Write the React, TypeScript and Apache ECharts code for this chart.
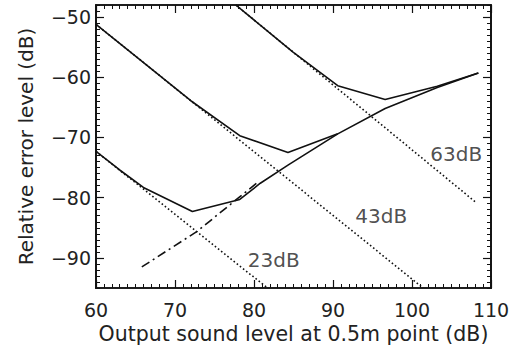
import React, { useEffect, useRef } from "react";
import * as echarts from "echarts";

const xMajorTicks = [60, 70, 80, 90, 100, 110];
const yMajorTicks = [-90, -80, -70, -60, -50];

// Quantization-noise lines (dotted)
const dotted23: number[][] = [[60, -72.3], [81.7, -95]];
const dotted43: number[][] = [[60, -51.2], [101.4, -95]];
const dotted63: number[][] = [[77.7, -48], [108.2, -80.9]];

// Rising distortion line (dash-dot)
const dashDot: number[][] = [[65.8, -91.5], [72.8, -85.6], [80.5, -77.4]];

// Total error curves (solid)
const total23: number[][] = [
  [60, -72.3], [63, -75.4], [66, -78.3], [72.2, -82.3], [78.2, -80.3],
  [80.8, -77.6], [84.3, -74.6], [90.6, -69.4], [96.6, -65.2], [103.2, -61.7], [108.4, -59.3],
];
const total43: number[][] = [
  [60, -51.2], [72, -63.9], [78.2, -69.7], [84.3, -72.5], [90.6, -69.4],
];
const total63: number[][] = [
  [77.7, -48], [84.9, -55.8], [90.6, -61.4], [96.6, -63.7], [103.2, -61.5], [108.4, -59.3],
];

const annotations = [
  { name: "63dB", value: [105.6, -72.8] },
  { name: "43dB", value: [96.1, -83.0] },
  { name: "23dB", value: [82.5, -90.3] },
];

const FONT = "DejaVu Sans";
const minus = (v: number) => (v < 0 ? "\u2212" + Math.abs(v) : String(v));

export default function App() {
  const ref = useRef<HTMLDivElement>(null);
  useEffect(() => {
    if (!ref.current) return;
    const chart = echarts.init(ref.current, null, { renderer: "svg" });
    const axisLine = { show: true, lineStyle: { color: "#111", width: 1.7 } };
    const minorX = {
      type: "value", min: 60, max: 110, interval: 1,
      axisLine, axisTick: { show: true, inside: true, length: 4, lineStyle: { color: "#111", width: 1 } },
      axisLabel: { show: false }, splitLine: { show: false },
    };
    const minorY = {
      type: "value", min: -95, max: -48, interval: 1,
      axisLine, axisTick: { show: true, inside: true, length: 4, lineStyle: { color: "#111", width: 1 } },
      axisLabel: { show: false }, splitLine: { show: false },
    };
    const lineSeries = (data: number[][], type: any, width = 1.6) => ({
      type: "line", data, symbol: "none", xAxisIndex: 0, yAxisIndex: 0,
      lineStyle: { color: "#111", width, type }, silent: true,
    });
    chart.setOption({
      animation: false,
      backgroundColor: "#fff",
      grid: { left: 96, right: 24, top: 5, bottom: 63, containLabel: false },
      xAxis: [
        { ...minorX, position: "bottom" },
        {
          type: "value", min: 60, max: 110, interval: 10, position: "bottom",
          axisLine, axisTick: { show: true, inside: true, length: 8, lineStyle: { color: "#111", width: 1.2 } },
          axisLabel: { show: true, fontFamily: FONT, fontSize: 19, color: "#222", margin: 12, formatter: minus },
          splitLine: { show: false },
          name: "Output sound level at 0.5m point (dB)", nameLocation: "middle", nameGap: 35,
          nameTextStyle: { fontFamily: FONT, fontSize: 20.5, color: "#222" },
        },
        { ...minorX, position: "top" },
        {
          type: "value", min: 60, max: 110, interval: 10, position: "top",
          axisLine, axisTick: { show: true, inside: true, length: 8, lineStyle: { color: "#111", width: 1.2 } },
          axisLabel: { show: false }, splitLine: { show: false },
        },
      ],
      yAxis: [
        { ...minorY, position: "left" },
        {
          type: "value", min: -95, max: -48, position: "left",
          axisLine,
          axisTick: { show: true, inside: true, length: 8, customValues: yMajorTicks, lineStyle: { color: "#111", width: 1.2 } },
          axisLabel: { show: true, customValues: yMajorTicks, fontFamily: FONT, fontSize: 19, color: "#222", margin: 5, formatter: minus },
          splitLine: { show: false },
          name: "Relative error level (dB)", nameLocation: "middle", nameGap: 60,
          nameTextStyle: { fontFamily: FONT, fontSize: 20, color: "#222" },
        },
        { ...minorY, position: "right" },
        {
          type: "value", min: -95, max: -48, position: "right",
          axisLine,
          axisTick: { show: true, inside: true, length: 8, customValues: yMajorTicks, lineStyle: { color: "#111", width: 1.2 } },
          axisLabel: { show: false }, splitLine: { show: false },
        },
      ],
      series: [
        lineSeries(dotted23, [1.6, 2.4]),
        lineSeries(dotted43, [1.6, 2.4]),
        lineSeries(dotted63, [1.6, 2.4]),
        lineSeries(dashDot, [9, 4, 2, 4]),
        lineSeries(total23, "solid"),
        lineSeries(total43, "solid"),
        lineSeries(total63, "solid"),
        {
          type: "scatter", data: annotations, symbolSize: 0, xAxisIndex: 0, yAxisIndex: 0,
          label: {
            show: true, position: "inside", formatter: (p: any) => p.name,
            fontFamily: FONT, fontSize: 20, color: "#222",
          },
          silent: true,
        },
      ],
    });
    return () => chart.dispose();
  }, []);
  return (
    <div
      ref={ref}
      style={{ position: "fixed", left: 0, top: 0, width: 515, height: 351, background: "#fff" }}
    />
  );
}
